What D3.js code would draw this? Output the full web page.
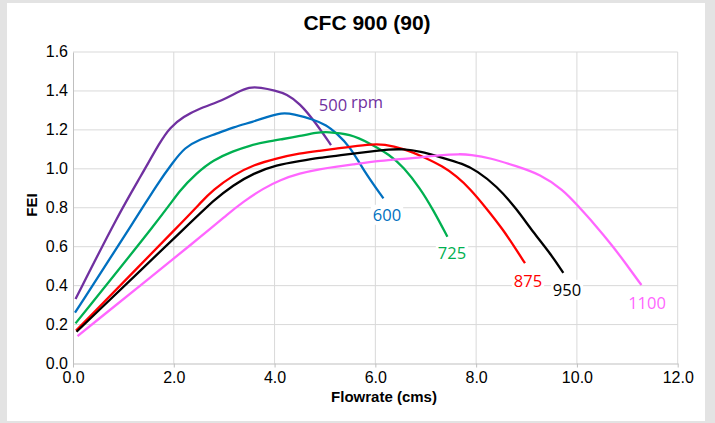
<!DOCTYPE html>
<html><head><meta charset="utf-8">
<script src="https://cdn.jsdelivr.net/npm/d3@7"></script>
<style>body{margin:0;background:#e3e3e3;} svg{display:block;}</style>
</head><body>
<svg id="chart" width="715" height="423"></svg>
<script>
// ---- data ----
const title = "CFC 900 (90)";
const xTicks = [0, 2, 4, 6, 8, 10, 12];
const yTicks = [0, 0.2, 0.4, 0.6, 0.8, 1.0, 1.2, 1.4, 1.6];
const speeds = ["500", "600", "725", "875", "950", "1100"];
const colors = ["#7030a0", "#0070c0", "#00b050", "#ff0000", "#000000", "#ff66ff"];

const q500 = [0.05,0.90,1.36,1.73,1.92,2.19,2.52,2.98,3.25,3.50,3.72,4.01,4.24,4.50,4.80,5.12];
const fei500 = [0.331,0.766,0.968,1.139,1.211,1.268,1.311,1.353,1.392,1.421,1.418,1.402,1.384,1.336,1.242,1.122];
const q600 = [0.04,1.30,1.66,1.99,2.22,2.50,2.85,3.18,3.58,3.84,4.14,4.37,4.77,5.03,5.23,5.50,5.76,6.16];
const fei600 = [0.261,0.766,0.917,1.036,1.110,1.150,1.180,1.214,1.242,1.266,1.288,1.282,1.253,1.225,1.182,1.114,0.994,0.848];
const q725 = [0.05,1.79,2.12,2.45,2.78,3.18,3.51,3.84,4.17,4.50,4.84,5.05,5.50,5.89,6.29,6.55,6.89,7.15,7.43];
const fei725 = [0.206,0.766,0.891,0.977,1.045,1.091,1.120,1.139,1.153,1.168,1.187,1.190,1.179,1.131,1.071,1.011,0.900,0.788,0.651];
const q875 = [0.06,2.32,2.52,2.78,3.18,3.58,4.04,4.50,4.90,5.23,5.50,5.96,6.16,6.55,6.95,7.35,7.61,7.88,8.21,8.54,8.80,8.97];
const fei875 = [0.169,0.766,0.823,0.891,0.968,1.020,1.054,1.080,1.093,1.104,1.114,1.127,1.126,1.105,1.062,1.011,0.962,0.898,0.795,0.686,0.583,0.515];
const q950 = [0.07,2.52,2.78,3.18,3.58,4.04,4.50,4.90,5.23,5.50,5.89,6.29,6.55,6.89,7.29,7.75,8.01,8.41,8.80,9.13,9.47,9.73];
const fei950 = [0.163,0.771,0.835,0.917,0.977,1.020,1.040,1.057,1.067,1.076,1.088,1.100,1.102,1.090,1.060,1.025,0.990,0.912,0.795,0.675,0.566,0.466];
const q1100 = [0.09,2.72,3.05,3.38,3.78,4.11,4.50,4.90,5.26,5.50,6.09,6.75,7.29,7.68,7.88,8.28,8.80,9.27,9.73,10.00,10.35,10.72,10.99,11.28];
const fei1100 = [0.141,0.689,0.763,0.831,0.900,0.943,0.977,0.999,1.012,1.020,1.042,1.054,1.071,1.076,1.073,1.056,1.013,0.972,0.891,0.815,0.716,0.600,0.506,0.403];

const flows = [q500, q600, q725, q875, q950, q1100];
const feis = [fei500, fei600, fei725, fei875, fei950, fei1100];

// ---- drawing ----
const svg = d3.select("#chart");
svg.append("rect").attr("x", 7).attr("y", 3).attr("width", 698).attr("height", 418).attr("fill", "#fff");

const x = d3.scaleLinear().domain([0, 12]).range([73, 677.7]);
const y = d3.scaleLinear().domain([0, 1.6]).range([363.5, 52]);

// grid
const grid = svg.append("g");
grid.selectAll("line.v").data(xTicks.slice(1)).join("line")
  .attr("x1", d => x(d)).attr("x2", d => x(d)).attr("y1", y(1.6)).attr("y2", y(0))
  .attr("stroke", "#d9d9d9").attr("stroke-width", 1);
grid.selectAll("line.h").data(yTicks.slice(1)).join("line")
  .attr("x1", x(0)).attr("x2", x(12)).attr("y1", d => y(d)).attr("y2", d => y(d))
  .attr("stroke", "#d9d9d9").attr("stroke-width", 1);

// axes
const axisFont = "Liberation Sans, Arial, sans-serif";
const xAxis = d3.axisBottom(x).tickValues(xTicks).tickFormat(d3.format(".1f")).tickSize(4).tickSizeOuter(0);
const gx = svg.append("g").attr("transform", `translate(0,${y(0)})`).call(xAxis);
gx.select(".domain").attr("stroke", "#bfbfbf");
gx.selectAll(".tick line").attr("stroke", "#bfbfbf");
gx.selectAll("text").attr("font-family", axisFont).attr("font-size", 16).attr("fill", "#000").attr("dy", "0.8em").attr("y", 6.5);

const yAxis = d3.axisLeft(y).tickValues(yTicks).tickFormat(d3.format(".1f")).tickSize(0).tickPadding(5);
const gy = svg.append("g").attr("transform", `translate(${x(0)},0)`).call(yAxis);
gy.select(".domain").attr("stroke", "#bfbfbf");
gy.selectAll("text").attr("font-family", axisFont).attr("font-size", 16).attr("fill", "#000").attr("dy", "0.3em");

// curves
const line = d3.line().x(d => x(d[0])).y(d => y(d[1])).curve(d3.curveBasis);
speeds.forEach((s, i) => {
  const pts = flows[i].map((q, j) => [q, feis[i][j]]);
  svg.append("path").datum(pts).attr("d", line)
    .attr("fill", "none").attr("stroke", colors[i]).attr("stroke-width", 2.3)
    .attr("stroke-linejoin", "round").attr("stroke-linecap", "butt");
});

// labels
const labelFont = "Open Sans, Noto Sans, sans-serif";
const labelPos = [[333, 105], [387, 215], [452, 253], [528, 281], [567, 290], [647, 303]];
speeds.forEach((s, i) => {
  const [lx, ly] = labelPos[i];
  const t = svg.append("text").attr("x", lx).attr("y", ly).attr("dy", "0.35em")
    .attr("text-anchor", "middle").attr("font-family", labelFont).attr("font-size", 16.5)
    .attr("fill", colors[i]).text(s);
  if (i > 0) {
    const bb = t.node().getBBox();
    svg.insert("rect", () => t.node()).attr("x", bb.x - 2).attr("y", bb.y + 2).attr("width", bb.width + 4).attr("height", bb.height - 3).attr("fill", "#fff");
  }
});
svg.append("text").attr("x", 367).attr("y", 102).attr("dy", "0.35em").attr("text-anchor", "middle")
  .attr("font-family", labelFont).attr("font-size", 16.5).attr("fill", colors[0]).text("rpm");

// titles
svg.append("text").attr("x", 367).attr("y", 30).attr("text-anchor", "middle")
  .attr("font-family", axisFont).attr("font-weight", "bold").attr("font-size", 21).text(title);
svg.append("text").attr("x", 384).attr("y", 402).attr("text-anchor", "middle")
  .attr("font-family", axisFont).attr("font-weight", "bold").attr("font-size", 15).text("Flowrate (cms)");
svg.append("text").attr("transform", "translate(37,205) rotate(-90)").attr("text-anchor", "middle")
  .attr("font-family", axisFont).attr("font-weight", "bold").attr("font-size", 15).text("FEI");
</script>
</body></html>
